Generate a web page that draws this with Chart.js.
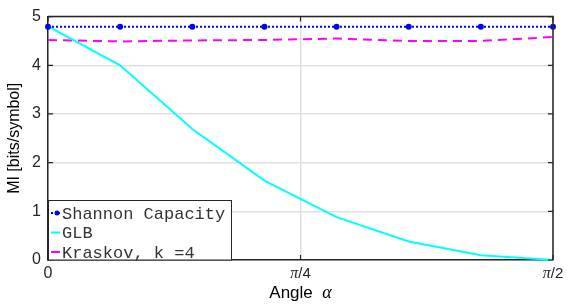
<!DOCTYPE html>
<html><head><meta charset="utf-8">
<script src="https://cdn.jsdelivr.net/npm/chart.js@4/dist/chart.umd.min.js"></script>
<style>html,body{margin:0;padding:0;background:#fff}#wrap{width:575px;height:306px}</style>
</head><body><div id="wrap"><canvas id="c" width="575" height="306"></canvas></div>
<script>
const PI = Math.PI;
const angles = [0, PI/14, 2*PI/14, 3*PI/14, 4*PI/14, 5*PI/14, 6*PI/14, 7*PI/14];
const shannon = [4.79, 4.79, 4.79, 4.79, 4.79, 4.79, 4.79, 4.79];
const glb = [4.80, 4.00, 2.69, 1.63, 0.88, 0.38, 0.10, 0.00];
const kraskov = [4.52, 4.49, 4.51, 4.52, 4.55, 4.50, 4.50, 4.58];
const xTickValues = [0, PI/4, PI/2];
const xTickLabels = [['0',''], ['\u03C0','/4'], ['\u03C0','/2']];
const seriesLabels = ['Shannon Capacity', 'GLB', 'Kraskov, k =4'];

const pts = arr => arr.map((v,i)=>({x:angles[i], y:v}));
const AX = '#262626';

const deco = {
  id:'deco',
  afterDraw(chart){
    const ctx = chart.ctx, a = chart.chartArea;
    const xs = chart.scales.x, ys = chart.scales.y;
    ctx.save();
    ctx.strokeStyle = AX; ctx.lineWidth = 1.5;
    ctx.beginPath();
    ctx.moveTo(a.left, a.top); ctx.lineTo(a.right, a.top); ctx.lineTo(a.right, a.bottom);
    ctx.stroke();
    ctx.lineWidth = 1.2;
    ctx.beginPath();
    xTickValues.forEach(v=>{
      const px = xs.getPixelForValue(v);
      ctx.moveTo(px, a.bottom); ctx.lineTo(px, a.bottom-5);
      ctx.moveTo(px, a.top); ctx.lineTo(px, a.top+5);
    });
    for(let v=0; v<=5; v++){
      const py = ys.getPixelForValue(v);
      ctx.moveTo(a.left, py); ctx.lineTo(a.left+5, py);
      ctx.moveTo(a.right, py); ctx.lineTo(a.right-5, py);
    }
    ctx.stroke();
    ctx.fillStyle = AX; ctx.textBaseline = 'middle';
    xTickValues.forEach((v,i)=>{
      const px = xs.getPixelForValue(v);
      const [p, rest] = xTickLabels[i];
      const f1 = p === '0' ? '16px "Liberation Sans"' : 'italic 16px "Liberation Serif"';
      const f2 = '15px "Liberation Sans"';
      ctx.font = f1; const w1 = ctx.measureText(p).width;
      ctx.font = f2; const w2 = ctx.measureText(rest).width;
      let x0 = px - (w1+w2)/2;
      ctx.textAlign = 'left';
      ctx.font = f1; ctx.fillText(p, x0, a.bottom+14);
      ctx.font = f2; ctx.fillText(rest, x0+w1, a.bottom+14);
    });
    ctx.fillStyle = '#000';
    const t1 = 'Angle  ', t2 = '\u03B1';
    ctx.font = '17px "Liberation Sans"'; const tw1 = ctx.measureText(t1).width;
    ctx.font = 'italic 18px "Liberation Serif"'; const tw2 = ctx.measureText(t2).width;
    const cx = (a.left+a.right)/2;
    let tx = cx - (tw1+tw2)/2;
    ctx.font = '17px "Liberation Sans"'; ctx.fillText(t1, tx, a.bottom+33);
    ctx.font = 'italic 18px "Liberation Serif"'; ctx.fillText(t2, tx+tw1, a.bottom+33);
    const lx = a.left, ly = 200, lw = 183, lh = a.bottom - 200;
    ctx.fillStyle = '#fff'; ctx.fillRect(lx, ly, lw, lh);
    ctx.strokeStyle = AX; ctx.lineWidth = 1; ctx.strokeRect(lx+0.5, ly+0.5, lw, lh-0.5);
    ctx.font = '17px "Liberation Mono"'; ctx.textBaseline = 'middle'; ctx.textAlign = 'left';
    chart.data.datasets.forEach((ds,i)=>{
      const y = ly + 13 + i*19.5;
      ctx.strokeStyle = ds.borderColor; ctx.lineWidth = 2;
      ctx.setLineDash(ds.borderDash || []);
      ctx.beginPath(); ctx.moveTo(lx+3, y); ctx.lineTo(lx+12, y); ctx.stroke();
      ctx.setLineDash([]);
      if (ds.pointRadius){
        ctx.fillStyle = ds.borderColor; ctx.beginPath(); ctx.arc(lx+9, y, 2.5, 0, 2*PI); ctx.fill();
      }
      ctx.fillStyle = '#333'; ctx.fillText(seriesLabels[i], lx+14, y+1);
    });
    ctx.restore();
  }
};

new Chart(document.getElementById('c'), {
  type:'line',
  data:{datasets:[
    {label:seriesLabels[0], data:pts(shannon), borderColor:'#0000ff', backgroundColor:'#0000ff', borderWidth:2, borderDash:[2,2], pointRadius:3, pointBorderWidth:0, clip:false},
    {label:seriesLabels[1], data:pts(glb), borderColor:'#00ffff', borderWidth:2, pointRadius:0, clip:false},
    {label:seriesLabels[2], data:pts(kraskov), borderColor:'#ff00ff', borderWidth:2, borderDash:[9,6], pointRadius:0, clip:false}
  ]},
  options:{
    responsive:false, animation:false, events:[],
    layout:{padding:{left:0, right:22, top:11, bottom:0}},
    plugins:{legend:{display:false}, tooltip:{enabled:false}},
    scales:{
      x:{type:'linear', min:0, max:PI/2,
        afterBuildTicks: s => { s.ticks = xTickValues.map(v=>({value:v})); },
        ticks:{display:false},
        grid:{color:'#e0e0e0', lineWidth:1.5, drawTicks:false},
        border:{display:true, color:AX, width:1.5},
        afterFit: s => { s.height = 46; }
      },
      y:{min:0, max:5,
        ticks:{stepSize:1, color:AX, font:{family:'"Liberation Sans"', size:16}, padding:7},
        grid:{color:'#e0e0e0', lineWidth:1.5, drawTicks:false},
        border:{display:true, color:AX, width:1.5},
        title:{display:true, text:'MI [bits/symbol]', color:'#000', font:{family:'"Liberation Sans"', size:16}, padding:{top:5, bottom:0}},
        afterFit: s => { s.width = 48; }
      }
    }
  },
  plugins:[deco]
});
</script></body></html>
